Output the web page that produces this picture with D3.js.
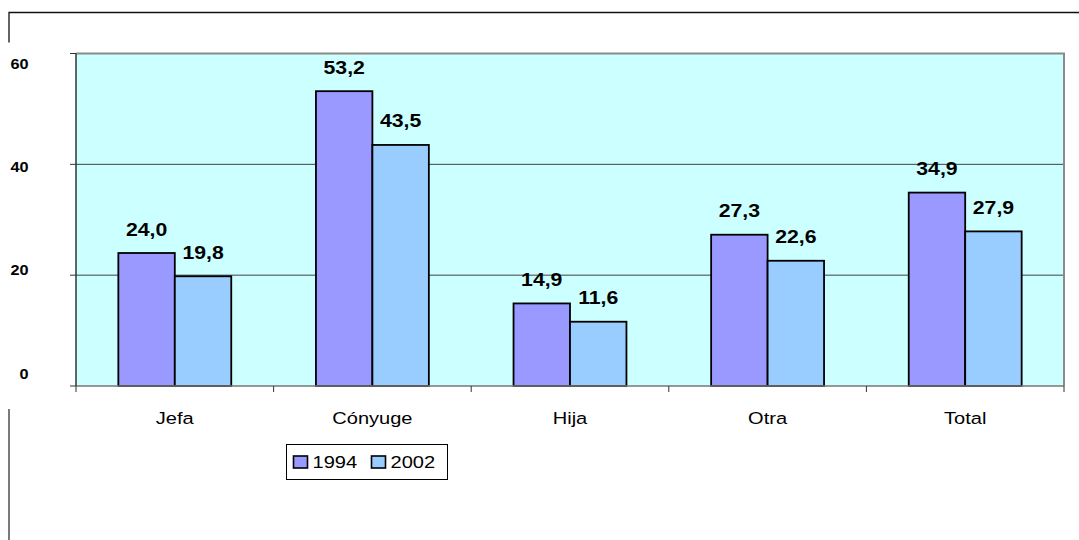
<!DOCTYPE html>
<html>
<head>
<meta charset="utf-8">
<script src="https://cdn.jsdelivr.net/npm/d3@7"></script>
<style>
  body { margin: 0; background: #fff; }
  svg { display: block; font-family: Arial, "Liberation Sans", sans-serif; }
</style>
</head>
<body>
<svg id="chart" width="1079" height="540"></svg>
<script>
// data
var categories = ["Jefa", "Cónyuge", "Hija", "Otra", "Total"];
var seriesNames = ["1994", "2002"];
var values1994 = [24.0, 53.2, 14.9, 27.3, 34.9];
var values2002 = [19.8, 43.5, 11.6, 22.6, 27.9];
var yTicks = [0, 20, 40, 60];
var colors = ["#9999FF", "#99CCFF"];

var svg = d3.select("#chart");
var sx = 1.18; // text in the original looks stretched sideways

var plotL = 76, plotR = 1064, plotT = 53.5, plotB = 386;

var rows = categories.map(function (c, i) {
    return { cat: c, vals: [values1994[i], values2002[i]] };
});

var x0 = d3.scaleBand().domain(categories).range([plotL, plotR]);
var bw = x0.bandwidth();
var gap = bw * 1.5 / 3.5;
var x1 = d3.scaleBand().domain(seriesNames).range([gap / 2, bw - gap / 2]);
var y = d3.scaleLinear().domain([0, 60]).range([plotB, plotT]);
// tick labels sit a bit off the gridlines in the original
var yLab = d3.scaleLinear().domain([0, 60]).range([378.5, 68.5]);

// outer frame pieces
svg.append("path")
    .attr("d", "M9,42.5 V12.5 H1079")
    .attr("fill", "none").attr("stroke", "#111").attr("stroke-width", 1.3);
svg.append("path")
    .attr("d", "M9,409 V540")
    .attr("fill", "none").attr("stroke", "#333").attr("stroke-width", 1.3);

// plot background
svg.append("rect")
    .attr("x", plotL).attr("y", plotT)
    .attr("width", plotR - plotL).attr("height", plotB - plotT)
    .attr("fill", "#CCFFFF");

// gridlines
svg.selectAll(".grid")
    .data(yTicks.filter(function (d) { return d > 0 && d < 60; }))
    .enter().append("line")
    .attr("x1", plotL).attr("x2", plotR)
    .attr("y1", function (d) { return y(d); }).attr("y2", function (d) { return y(d); })
    .attr("stroke", "#404040").attr("stroke-width", 1);

// frame top and right
svg.append("path")
    .attr("d", "M" + plotL + "," + plotT + " H" + plotR + " V" + plotB)
    .attr("fill", "none").attr("stroke", "#8a8a8a").attr("stroke-width", 2);

// bars
var groups = svg.selectAll(".grp")
    .data(rows)
    .enter().append("g")
    .attr("transform", function (d) { return "translate(" + x0(d.cat) + ",0)"; });

groups.selectAll("rect")
    .data(function (d) { return d.vals; })
    .enter().append("rect")
    .attr("x", function (d, i) { return x1(seriesNames[i]); })
    .attr("y", function (d) { return y(d); })
    .attr("width", x1.bandwidth())
    .attr("height", function (d) { return plotB - y(d); })
    .attr("fill", function (d, i) { return colors[i]; })
    .attr("stroke", "#000").attr("stroke-width", 1.8);

groups.selectAll("text")
    .data(function (d) { return d.vals; })
    .enter().append("text")
    .attr("transform", function (d, i) {
        return "translate(" + (x1(seriesNames[i]) + x1.bandwidth() / 2) + "," + (y(d) - 17.5) + ") scale(" + sx + ",1)";
    })
    .attr("text-anchor", "middle")
    .attr("font-size", 18).attr("font-weight", "bold").attr("fill", "#000")
    .text(function (d) { return d.toFixed(1).replace(".", ","); });

// x axis line and ticks
svg.append("line")
    .attr("x1", plotL).attr("x2", plotR).attr("y1", plotB).attr("y2", plotB)
    .attr("stroke", "#777").attr("stroke-width", 1.5);
var bounds = categories.map(function (c) { return x0(c); }).concat([plotR]);
svg.selectAll(".xtick")
    .data(bounds)
    .enter().append("line")
    .attr("x1", function (d) { return d; }).attr("x2", function (d) { return d; })
    .attr("y1", plotB).attr("y2", plotB + 6)
    .attr("stroke", "#333").attr("stroke-width", 1);

svg.selectAll(".xlab")
    .data(categories)
    .enter().append("text")
    .attr("transform", function (d) {
        return "translate(" + (x0(d) + bw / 2) + ",424) scale(" + sx + ",1)";
    })
    .attr("text-anchor", "middle")
    .attr("font-size", 17).attr("fill", "#000")
    .text(function (d) { return d; });

// y axis line, ticks, labels
svg.append("line")
    .attr("x1", plotL).attr("x2", plotL).attr("y1", plotT).attr("y2", plotB)
    .attr("stroke", "#333").attr("stroke-width", 1.5);
svg.selectAll(".ytick")
    .data(yTicks)
    .enter().append("line")
    .attr("x1", plotL - 6).attr("x2", plotL)
    .attr("y1", function (d) { return y(d); }).attr("y2", function (d) { return y(d); })
    .attr("stroke", "#333").attr("stroke-width", 1);
svg.selectAll(".ylab")
    .data(yTicks)
    .enter().append("text")
    .attr("transform", function (d) {
        return "translate(28.5," + yLab(d) + ") scale(1.12,1)";
    })
    .attr("text-anchor", "end")
    .attr("font-size", 14.5).attr("font-weight", "bold").attr("fill", "#000")
    .text(function (d) { return d; });

// legend
var legend = svg.append("g").attr("transform", "translate(286.5,444.5)");
legend.append("rect")
    .attr("width", 161).attr("height", 35)
    .attr("fill", "#fff").attr("stroke", "#000").attr("stroke-width", 1);
var items = legend.selectAll(".item")
    .data(seriesNames)
    .enter().append("g")
    .attr("transform", function (d, i) { return "translate(" + (7 + i * 78) + ",0)"; });
items.append("rect")
    .attr("y", 11.5).attr("width", 14).attr("height", 12)
    .attr("fill", function (d, i) { return colors[i]; })
    .attr("stroke", "#000").attr("stroke-width", 1.6);
items.append("text")
    .attr("transform", "translate(19,23.5) scale(" + sx + ",1)")
    .attr("font-size", 17).attr("fill", "#000")
    .text(function (d) { return d; });
</script>
</body>
</html>
